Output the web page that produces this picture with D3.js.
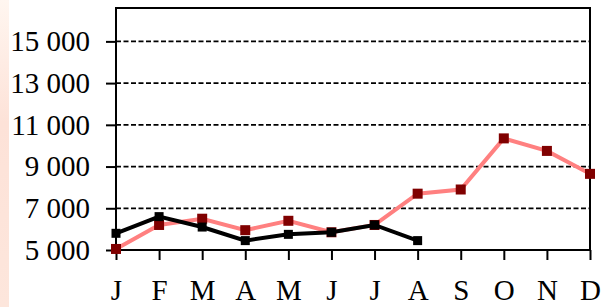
<!DOCTYPE html>
<html>
<head>
<meta charset="utf-8">
<script src="https://cdn.jsdelivr.net/npm/d3@7"></script>
<style>
  body { margin: 0; background: #fff; }
  svg { display: block; font-family: "Liberation Serif", "Times New Roman", serif; }
</style>
</head>
<body>
<script>
var months = ["J", "F", "M", "A", "M", "J", "J", "A", "S", "O", "N", "D"];
var pinkValues = [5050, 6200, 6500, 5950, 6400, 5850, 6200, 7700, 7900, 10350, 9750, 8650];
var blackValues = [5800, 6600, 6100, 5450, 5750, 5850, 6200, 5450];
var yTicks = [5000, 7000, 9000, 11000, 13000, 15000];

var width = 606, height = 307;
var margin = {top: 8, right: 16, bottom: 57, left: 116};

var svg = d3.select("body").append("svg")
    .attr("width", width)
    .attr("height", height);

// pale stripe on the left edge
var grad = svg.append("defs").append("linearGradient")
    .attr("id", "stripe").attr("x1", 0).attr("x2", 0).attr("y1", 0).attr("y2", 1);
grad.append("stop").attr("offset", "0%").attr("stop-color", "#fff6f0");
grad.append("stop").attr("offset", "40%").attr("stop-color", "#fde2d8");
grad.append("stop").attr("offset", "100%").attr("stop-color", "#fde6dc");
svg.append("rect").attr("x", 0).attr("y", 0).attr("width", 9).attr("height", height)
    .attr("fill", "url(#stripe)");

var x = d3.scalePoint()
    .domain(d3.range(months.length))
    .range([margin.left, width - margin.right]);

var y = d3.scaleLinear()
    .domain([5000, 16600])
    .range([height - margin.bottom, margin.top]);

// dashed gridlines
svg.selectAll(".grid")
    .data(yTicks.slice(1))
    .enter().append("line")
    .attr("class", "grid")
    .attr("x1", margin.left).attr("x2", width - margin.right)
    .attr("y1", function(d) { return y(d); })
    .attr("y2", function(d) { return y(d); })
    .attr("stroke", "#000")
    .attr("stroke-width", 1.8)
    .attr("stroke-dasharray", "5,2.5");

// frame
svg.append("rect")
    .attr("x", margin.left).attr("y", margin.top)
    .attr("width", width - margin.right - margin.left)
    .attr("height", height - margin.bottom - margin.top)
    .attr("fill", "none")
    .attr("stroke", "#000")
    .attr("stroke-width", 2);

var fmt = function(d) { return d3.format(",")(d).replace(",", " "); };

var yAxis = svg.append("g")
    .attr("transform", "translate(" + margin.left + ",0)")
    .call(d3.axisLeft(y).tickValues(yTicks).tickFormat(fmt).tickSize(10).tickPadding(16));
yAxis.select(".domain").remove();
yAxis.selectAll("line").attr("stroke", "#000").attr("stroke-width", 2);
yAxis.selectAll("text").attr("font-size", "29px").attr("fill", "#000")
    .attr("font-family", "Liberation Serif, serif");

var xAxis = svg.append("g")
    .attr("transform", "translate(0," + (height - margin.bottom) + ")")
    .call(d3.axisBottom(x).tickFormat(function(i) { return months[i]; }).tickSize(10).tickPadding(19));
xAxis.select(".domain").remove();
xAxis.selectAll("line").attr("stroke", "#000").attr("stroke-width", 2);
xAxis.selectAll("text").attr("font-size", "29px").attr("fill", "#000")
    .attr("font-family", "Liberation Serif, serif");

var line = d3.line()
    .x(function(d, i) { return x(i); })
    .y(function(d) { return y(d); });

svg.append("path")
    .datum(pinkValues)
    .attr("d", line)
    .attr("fill", "none")
    .attr("stroke", "#ff8080")
    .attr("stroke-width", 4);

svg.selectAll(".pink-pt")
    .data(pinkValues)
    .enter().append("rect")
    .attr("class", "pink-pt")
    .attr("x", function(d, i) { return x(i) - 5; })
    .attr("y", function(d) { return y(d) - 5; })
    .attr("width", 10).attr("height", 10)
    .attr("fill", "#800000");

svg.append("path")
    .datum(blackValues)
    .attr("d", line)
    .attr("fill", "none")
    .attr("stroke", "#000")
    .attr("stroke-width", 4);

svg.selectAll(".black-pt")
    .data(blackValues)
    .enter().append("rect")
    .attr("class", "black-pt")
    .attr("x", function(d, i) { return x(i) - 4.5; })
    .attr("y", function(d) { return y(d) - 4.5; })
    .attr("width", 9).attr("height", 9)
    .attr("fill", "#000");
</script>
</body>
</html>
